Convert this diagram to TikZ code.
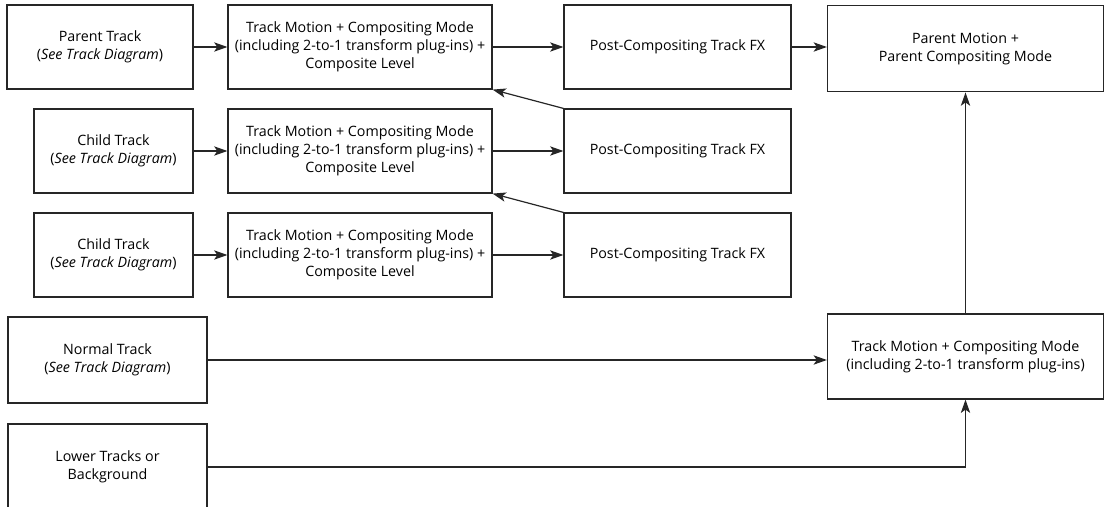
\documentclass[tikz,border=0pt]{standalone}
\usepackage{fontspec}
\setmainfont{Open Sans}
\usetikzlibrary{arrows.meta,positioning}
\tikzset{
  stagebox/.style={draw=black!85, line width=0.9pt, align=center, inner sep=2pt,
                   minimum height=63pt, font=\fontsize{10.7}{13.5}\selectfont},
  trackbox/.style={stagebox, minimum width=139.5pt},
  childbox/.style={stagebox, minimum width=119.25pt},
  motionbox/.style={stagebox, minimum width=198pt},
  fxbox/.style={stagebox, minimum width=170.25pt},
  parentbox/.style={stagebox, minimum width=207pt, minimum height=65pt},
  flow/.style={-{Stealth[length=10pt,width=7pt,inset=2.5pt]}, line width=0.9pt, draw=black!85}
}
\newcommand{\seetrack}{(\textit{See Track Diagram})}
\newcommand{\motiontext}{Track Motion + Compositing Mode\\(including 2-to-1 transform plug-ins) +\\Composite Level}

\begin{document}
\begin{tikzpicture}[x=0.75pt, y=-0.75pt]
\useasboundingbox (0,0) rectangle (1107,507);
\clip (0,0) rectangle (1107,507);
% nested tracks
\node[trackbox] (parent) at (100,47) {Parent Track\\\seetrack};
\node[motionbox] (tmA) at (360,47) {\motiontext};
\node[fxbox] (fxA) at (677.5,47) {Post-Compositing Track FX};
\node[parentbox] (pmotion) at (965.5,48.5) {Parent Motion +\\Parent Compositing Mode};
\foreach \y/\n in {151/B,255/C} {
  \node[childbox] (child\n) at (113.5,\y) {Child Track\\\seetrack};
  \node[motionbox] (tm\n) at (360,\y) {\motiontext};
  \node[fxbox] (fx\n) at (677.5,\y) {Post-Compositing Track FX};
}
% lower part
\node[stagebox, minimum width=149.25pt, minimum height=64.5pt] (normal) at (107.5,360) {Normal Track\\\seetrack};
\node[parentbox, minimum height=63.75pt] (tmR) at (965.5,356.5) {Track Motion + Compositing Mode\\(including 2-to-1 transform plug-ins)};
\node[stagebox, minimum width=149.25pt, minimum height=64.5pt] (lower) at (107.5,467) {Lower Tracks or\\Background};
% connectors
\draw[flow] (parent) -- (tmA);
\draw[flow] (tmA) -- (fxA);
\draw[flow] (fxA) -- (pmotion.west |- fxA);
\foreach \n in {B,C} {
  \draw[flow] (child\n) -- (tm\n);
  \draw[flow] (tm\n) -- (fx\n);
}
\draw[flow] (fxB.north west) -- (tmA.south east);
\draw[flow] (fxC.north west) -- (tmB.south east);
\draw[flow] (normal.east) -- (normal.east -| tmR.west);
\draw[flow] (lower.east) -| (tmR.south);
\draw[flow] (tmR.north) -- (pmotion.south);
\end{tikzpicture}
\end{document}
